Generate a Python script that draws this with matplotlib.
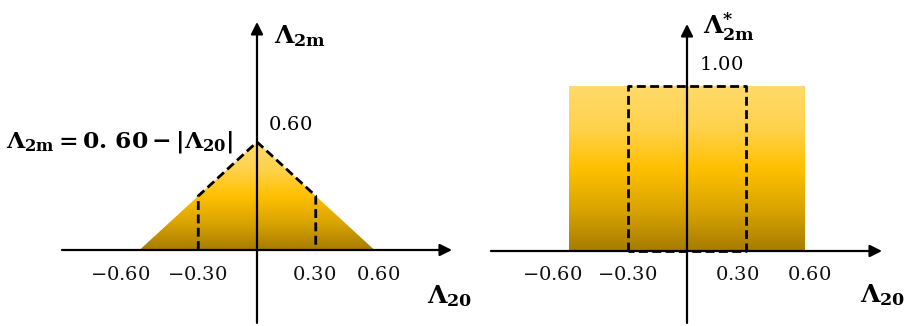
import matplotlib
matplotlib.use('Agg')
import matplotlib.pyplot as plt
import numpy as np
from matplotlib.colors import LinearSegmentedColormap
from matplotlib.patches import Polygon

plt.rcParams['mathtext.fontset'] = 'dejavuserif'
plt.rcParams['font.family'] = 'DejaVu Serif'

# data
tick_vals = [-0.60, -0.30, 0.30, 0.60]
tick_labels = ['-0.60', '-0.30', '0.30', '0.60']
# left panel: allowed region and reduced (dashed) region
tri_x = [-0.60, 0.0, 0.60]
tri_y = [0.0, 0.60, 0.0]
dash_left_x = [-0.30, -0.30, 0.0, 0.30, 0.30]
dash_left_y = [0.0, 0.30, 0.60, 0.30, 0.0]
peak_left = 0.60
# right panel
rect_x = [-0.60, 0.60]
rect_h = 1.00
dash_right_x = [-0.30, -0.30, 0.30, 0.30, -0.30]
dash_right_y = [0.0, 1.00, 1.00, 0.0, 0.0]

W, H = 905, 326
fig = plt.figure(figsize=(W / 100, H / 100), dpi=100)

gold = LinearSegmentedColormap.from_list(
    'gold', ['#A67C00', '#D9A400', '#FFC000', '#FFD24D', '#FFDA6A'])


def make_ax(x0, xw, ylo, yhi):
    # axes in figure pixels, full height
    ax = fig.add_axes([x0 / W, 0, xw / W, 1])
    ax.set_xlim(-1.05, 1.05)
    ax.set_ylim(ylo, yhi)
    ax.axis('off')
    return ax


def gradient(ax, patch, x0, x1, y0, y1):
    g = np.linspace(0, 1, 256).reshape(-1, 1)
    im = ax.imshow(g, cmap=gold, origin='lower', extent=[x0, x1, y0, y1],
                   aspect='auto', zorder=1, interpolation='bicubic')
    patch.set_facecolor('none')
    patch.set_edgecolor('none')
    ax.add_patch(patch)
    im.set_clip_path(patch)


def axes_arrows(ax, xa, xb, ya, yb):
    kw = dict(arrowstyle='-|>', lw=1.6, color='black', mutation_scale=18,
              shrinkA=0, shrinkB=0)
    ax.annotate('', xy=(xb, 0), xytext=(xa, 0), arrowprops=kw, zorder=5)
    ax.annotate('', xy=(0, yb), xytext=(0, ya), arrowprops=kw, zorder=5)


def ticks(ax, yoff, xoffs):
    for v, lab, dx in zip(tick_vals, tick_labels, xoffs):
        ax.text(v + dx, yoff, '$' + lab + '$', ha='center', va='center',
                fontsize=14, color='#111111')


# ---- left panel ----
axL = make_ax(257 - 1.05 * 195.8, 2.1 * 195.8, -(H - 250) / 180, 250 / 180)
gradient(axL, Polygon(np.column_stack([tri_x, tri_y]), closed=True),
         min(tri_x), max(tri_x), 0, max(tri_y))
axL.plot(dash_left_x, dash_left_y, color='black', lw=2.0,
         dashes=(3.2, 1.6), zorder=4)
axes_arrows(axL, -0.996, 0.996, -0.405, 1.267)
ticks(axL, -0.139, [-0.10, -0.006, -0.01, 0.018])
axL.text(0.171, peak_left + 0.097, '$%.2f$' % peak_left, ha='center',
         va='center', fontsize=14)
axL.text(0.085, 1.19, r'$\mathbf{\Lambda_{2m}}$', ha='left', va='center',
         fontsize=18)
axL.text(0.87, -0.255, r'$\mathbf{\Lambda_{20}}$', ha='left', va='center',
         fontsize=18)
axL.text(-0.12, 0.6, r'$\mathbf{\Lambda_{2m} = 0.\,60 - |\Lambda_{20}|}$',
         ha='right', va='center', fontsize=16.8)

# ---- right panel ----
axR = make_ax(687 - 1.05 * 197, 2.1 * 197, -(H - 251) / 165, 251 / 165)
x0, x1 = rect_x
gradient(axR, Polygon([[x0, 0], [x0, rect_h], [x1, rect_h], [x1, 0]],
                      closed=True), x0, x1, 0, rect_h)
axR.plot(dash_right_x, dash_right_y, color='black', lw=2.0,
         dashes=(3.2, 1.6), zorder=4)
axes_arrows(axR, -0.995, 0.99, -0.436, 1.376)
ticks(axR, -0.145, [-0.083, -0.005, -0.046, 0.022])
axR.text(0.173, rect_h + 0.13, '$%.2f$' % rect_h, ha='center', va='center',
         fontsize=14)
axR.text(0.08, 1.36, r'$\mathbf{\Lambda_{2m}^{*}}$', ha='left',
         va='center', fontsize=18)
axR.text(0.88, -0.27, r'$\mathbf{\Lambda_{20}}$', ha='left', va='center',
         fontsize=18)

fig.savefig('out.png', dpi=100)
